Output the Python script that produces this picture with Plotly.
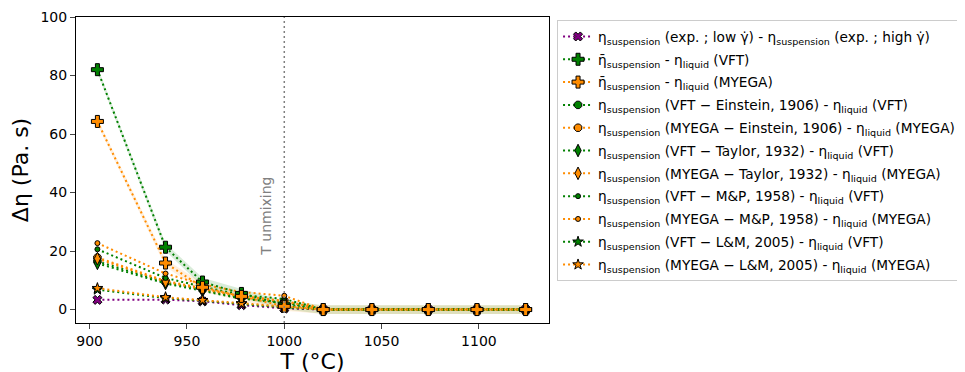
import plotly.graph_objects as go

# ---- data ----
T = [904, 939, 958, 978, 1000, 1020, 1045, 1074, 1099, 1124]

exp_diff = [3.3, 3.4, 2.8, 1.5, 0.4, 0, 0, 0, 0, 0]
vft_bar = [82.0, 21.3, 9.4, 5.5, 1.6, 0, 0, 0, 0, 0]
myega_bar = [64.3, 15.9, 7.6, 4.5, 1.1, 0, 0, 0, 0, 0]
vft_bar_err = [1.0, 1.3, 1.5, 1.5, 1.5, 1.5, 1.5, 1.5, 1.5, 1.5]
myega_bar_err = [1.0, 1.3, 1.5, 1.5, 1.5, 1.5, 1.5, 1.5, 1.5, 1.5]
vft_einstein = [16.5, 9.3, 6.8, 4.0, 2.5, 0, 0, 0, 0, 0]
myega_einstein = [17.8, 9.8, 7.3, 4.6, 3.0, 0, 0, 0, 0, 0]
vft_taylor = [15.8, 8.9, 6.4, 3.7, 2.3, 0, 0, 0, 0, 0]
myega_taylor = [17.4, 9.5, 7.0, 4.4, 2.8, 0, 0, 0, 0, 0]
vft_mp = [20.6, 10.8, 7.8, 5.0, 3.6, 0, 0, 0, 0, 0]
myega_mp = [22.7, 12.3, 8.6, 6.0, 4.7, 0, 0, 0, 0, 0]
vft_lm = [6.8, 3.9, 3.0, 1.9, 0.7, 0, 0, 0, 0, 0]
myega_lm = [7.3, 4.2, 3.2, 2.1, 0.9, 0, 0, 0, 0, 0]

T_UNMIX = 1000

GREEN = "#008000"
ORANGE = "#ff8c00"
PURPLE = "#800080"

S = "η<sub>suspension</sub>"
L = "η<sub>liquid</sub>"
SB = "η\u0304<sub>suspension</sub>"
GD = "γ\u0307"

fig = go.Figure()

# error bands
for vals, err, col in [(vft_bar, vft_bar_err, "rgba(0,128,0,0.15)"),
                       (myega_bar, myega_bar_err, "rgba(255,140,0,0.13)")]:
    lo = [v - e for v, e in zip(vals, err)]
    hi = [v + e for v, e in zip(vals, err)]
    fig.add_trace(go.Scatter(x=T, y=lo, mode="lines", line=dict(width=0),
                             showlegend=False, hoverinfo="skip"))
    fig.add_trace(go.Scatter(x=T, y=hi, mode="lines", line=dict(width=0),
                             fill="tonexty", fillcolor=col,
                             showlegend=False, hoverinfo="skip"))

series = [
    (exp_diff, f"{S} (exp. ; low {GD}) - {S} (exp. ; high {GD})", PURPLE, "x", 8),
    (vft_bar, f"{SB} - {L} (VFT)", GREEN, "cross", 10),
    (myega_bar, f"{SB} - {L} (MYEGA)", ORANGE, "cross", 10),
    (vft_einstein, f"{S} (VFT − Einstein, 1906) - {L} (VFT)", GREEN, "octagon", 8),
    (myega_einstein, f"{S} (MYEGA − Einstein, 1906) - {L} (MYEGA)", ORANGE, "octagon", 8),
    (vft_taylor, f"{S} (VFT − Taylor, 1932) - {L} (VFT)", GREEN, "diamond-tall", 9),
    (myega_taylor, f"{S} (MYEGA − Taylor, 1932) - {L} (MYEGA)", ORANGE, "diamond-tall", 9),
    (vft_mp, f"{S} (VFT − M&P, 1958) - {L} (VFT)", GREEN, "circle", 5),
    (myega_mp, f"{S} (MYEGA − M&P, 1958) - {L} (MYEGA)", ORANGE, "circle", 5),
    (vft_lm, f"{S} (VFT − L&M, 2005) - {L} (VFT)", GREEN, "star", 8),
    (myega_lm, f"{S} (MYEGA − L&M, 2005) - {L} (MYEGA)", ORANGE, "star", 8),
]

draw_order = [0, 3, 4, 5, 6, 7, 8, 9, 10, 1, 2]
for k in draw_order:
    vals, name, col, sym, size = series[k]
    fig.add_trace(go.Scatter(
        x=T, y=vals, name=name, mode="lines+markers",
        line=dict(color=col, width=2, dash="2px,3px"),
        marker=dict(symbol=sym, size=size, color=col,
                    line=dict(color="black", width=1)),
        legendgroup=f"g{k:02d}", legendrank=k + 1,
    ))

fig.add_shape(type="line", x0=T_UNMIX, x1=T_UNMIX, y0=0, y1=1,
              xref="x", yref="y domain",
              line=dict(color="gray", width=1.5, dash="2px,3px"))
fig.add_annotation(x=990.5, y=32, xref="x", yref="y", text="T unmixing",
                   textangle=-90, showarrow=False,
                   font=dict(size=14, color="gray"))

fig.update_layout(
    width=965, height=372,
    margin=dict(l=68, r=424, t=9, b=57, autoexpand=False),
    paper_bgcolor="white", plot_bgcolor="white",
    font=dict(family="DejaVu Sans", size=14, color="black"),
    showlegend=True,
    legend=dict(x=1.017, y=0.99, xanchor="left", yanchor="top",
                bordercolor="#cccccc", borderwidth=1,
                font=dict(size=13.7), tracegroupgap=2,
                traceorder="grouped"),
)
fig.update_xaxes(range=[893, 1136], tickvals=[900, 950, 1000, 1050, 1100],
                 showline=True, linecolor="black", linewidth=1, mirror=True,
                 ticks="outside", ticklen=5, showgrid=False, zeroline=False,
                 title=dict(text="T (°C)", font=dict(size=22), standoff=0),
                 tickfont=dict(size=14))
fig.update_yaxes(range=[-4.6, 100], tickvals=[0, 20, 40, 60, 80, 100],
                 showline=True, linecolor="black", linewidth=1, mirror=True,
                 ticks="outside", ticklen=5, showgrid=False, zeroline=False,
                 title=dict(text="Δη (Pa. s)", font=dict(size=22), standoff=8),
                 tickfont=dict(size=14))

fig.write_html("out.html")
